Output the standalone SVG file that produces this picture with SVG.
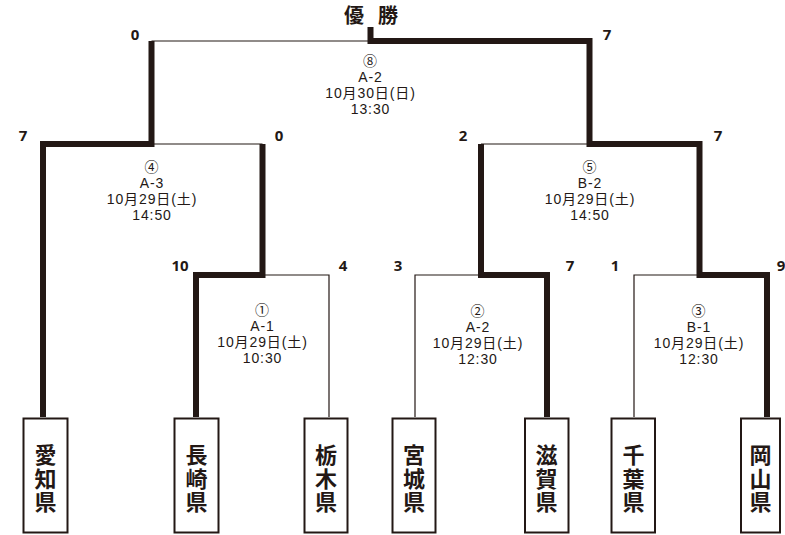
<svg xmlns="http://www.w3.org/2000/svg" width="785" height="535" viewBox="0 0 785 535">
<style>
.thick{fill:none;stroke:#231815;stroke-width:6;stroke-linejoin:miter;stroke-linecap:butt}
.thin{fill:none;stroke:#231815;stroke-width:1.2}
.box{fill:#fff;stroke:#231815;stroke-width:2}
.pref{font-family:"Noto Sans CJK JP","Noto Sans",sans-serif;font-weight:700;font-size:22px;fill:#231815;text-anchor:middle;writing-mode:vertical-rl;letter-spacing:1.5px}
.score{font-family:"Noto Sans","Liberation Sans",sans-serif;font-weight:700;font-size:15px;fill:#231815;text-anchor:middle}
.info{font-family:"Liberation Sans","Noto Sans CJK JP",sans-serif;font-size:14px;fill:#231815;text-anchor:middle;letter-spacing:0.9px}
.title{font-family:"Noto Sans CJK JP",sans-serif;font-weight:700;font-size:20px;fill:#231815;text-anchor:middle}
</style>
<rect width="785" height="535" fill="#fff"/>
<g id="connectors">
<path class="thin" d="M151.5,41 H370.5"/>
<path class="thin" d="M151.5,144 H262.5"/>
<path class="thin" d="M481,144 H589.5"/>
<path class="thin" d="M329,417 V275 H262.5"/>
<path class="thin" d="M415,417 V275 H481"/>
<path class="thin" d="M634,417 V275 H699.5"/>
<path class="thick" d="M43,417 V144 H151.5 V41"/>
<path class="thick" d="M196,417 V275 H262.5 V144"/>
<path class="thick" d="M547,417 V275 H481 V144"/>
<path class="thick" d="M767,417 V275 H699.5 V144 H589.5 V41 H370.5 V27"/>
</g>
<g id="title"><text class="title" x="354" y="23">優</text><text class="title" x="388" y="23">勝</text></g>
<g id="scores">
<text class="score" x="135" y="40">0</text>
<text class="score" x="607" y="40">7</text>
<text class="score" x="23" y="141">7</text>
<text class="score" x="279" y="141">0</text>
<text class="score" x="463" y="141">2</text>
<text class="score" x="718" y="141">7</text>
<text class="score" x="180" y="271">10</text>
<text class="score" x="343" y="271">4</text>
<text class="score" x="398" y="271">3</text>
<text class="score" x="570" y="271">7</text>
<text class="score" x="615" y="271">1</text>
<text class="score" x="781" y="271">9</text>
</g>
<g id="match8"><text class="info" y="66"><tspan x="370.5">⑧</tspan><tspan x="370.5" dy="16">A-2</tspan><tspan x="370.5" dy="16">10月30日(日)</tspan><tspan x="370.5" dy="16">13:30</tspan></text></g>
<g id="match4"><text class="info" y="172"><tspan x="152">④</tspan><tspan x="152" dy="16">A-3</tspan><tspan x="152" dy="16">10月29日(土)</tspan><tspan x="152" dy="16">14:50</tspan></text></g>
<g id="match5"><text class="info" y="172"><tspan x="590">⑤</tspan><tspan x="590" dy="16">B-2</tspan><tspan x="590" dy="16">10月29日(土)</tspan><tspan x="590" dy="16">14:50</tspan></text></g>
<g id="match1"><text class="info" y="315"><tspan x="262.5">①</tspan><tspan x="262.5" dy="16">A-1</tspan><tspan x="262.5" dy="16">10月29日(土)</tspan><tspan x="262.5" dy="16">10:30</tspan></text></g>
<g id="match2"><text class="info" y="316"><tspan x="478">②</tspan><tspan x="478" dy="16">A-2</tspan><tspan x="478" dy="16">10月29日(土)</tspan><tspan x="478" dy="16">12:30</tspan></text></g>
<g id="match3"><text class="info" y="316"><tspan x="699">③</tspan><tspan x="699" dy="16">B-1</tspan><tspan x="699" dy="16">10月29日(土)</tspan><tspan x="699" dy="16">12:30</tspan></text></g>
<g id="aichi"><rect class="box" x="23.5" y="418.5" width="44" height="114"/><text class="pref" x="45.5" y="479">愛知県</text></g>
<g id="nagasaki"><rect class="box" x="174.5" y="418.5" width="44" height="114"/><text class="pref" x="196.5" y="479">長崎県</text></g>
<g id="tochigi"><rect class="box" x="304.5" y="418.5" width="43" height="114"/><text class="pref" x="326" y="479">栃木県</text></g>
<g id="miyagi"><rect class="box" x="392.5" y="418.5" width="43" height="114"/><text class="pref" x="414" y="479">宮城県</text></g>
<g id="shiga"><rect class="box" x="525" y="418.5" width="43.5" height="114"/><text class="pref" x="546.5" y="479">滋賀県</text></g>
<g id="chiba"><rect class="box" x="611.5" y="418.5" width="43.5" height="114"/><text class="pref" x="633.5" y="479">千葉県</text></g>
<g id="okayama"><rect class="box" x="741" y="418.5" width="39" height="114"/><text class="pref" x="760.5" y="479">岡山県</text></g>
</svg>
